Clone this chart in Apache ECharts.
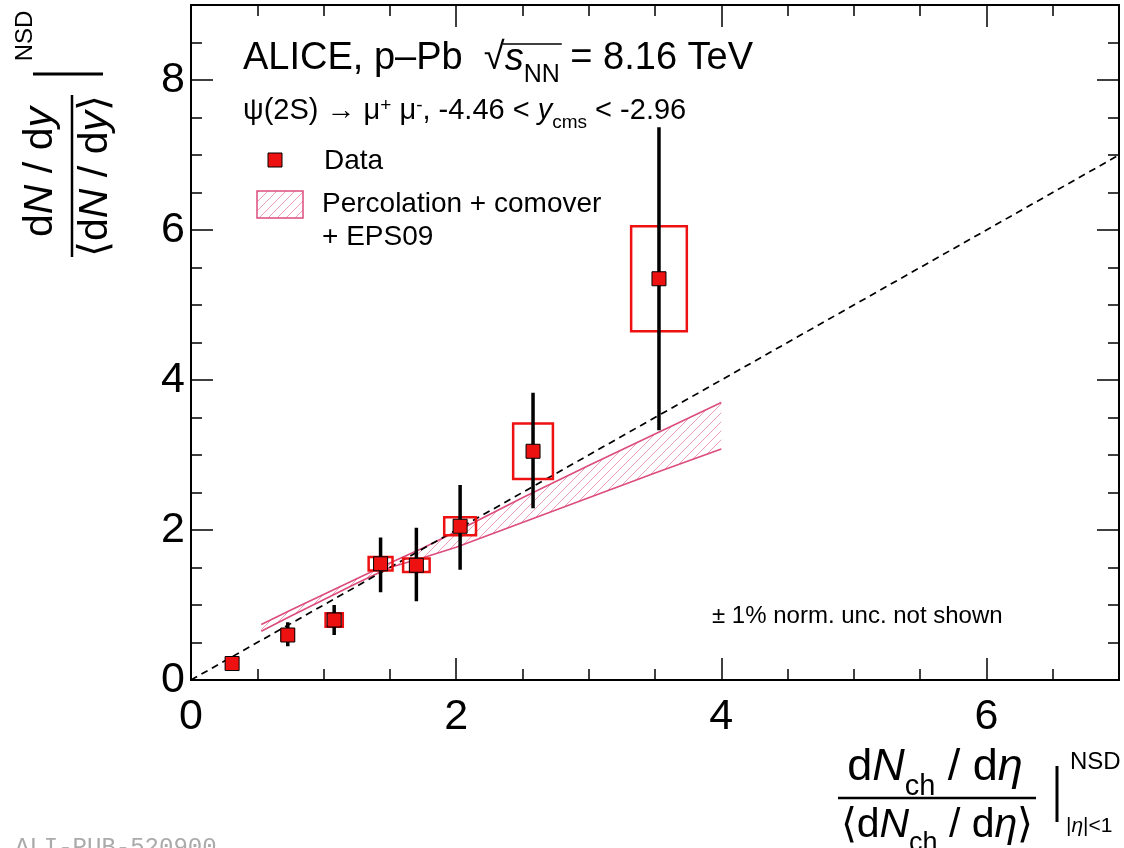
<!DOCTYPE html>
<html><head><meta charset="utf-8">
<script src="https://cdn.jsdelivr.net/npm/echarts@6.0.0/dist/echarts.min.js"></script>
<style>html,body{margin:0;padding:0;background:#fff}#c{width:1124px;height:848px}</style>
</head><body><div id="c"></div>
<script>
// ---- data ----
const dataX   = [0.31, 0.73, 1.08, 1.43, 1.70, 2.03, 2.58, 3.53];
const dataY   = [0.22, 0.60, 0.80, 1.55, 1.53, 2.05, 3.05, 5.35];
const statLo  = [0.16, 0.45, 0.60, 1.17, 1.05, 1.47, 2.29, 3.33];
const statHi  = [0.28, 0.77, 1.00, 1.90, 2.03, 2.60, 3.83, 7.37];
const sysHalfX = [0.04, 0.045, 0.065, 0.09, 0.10, 0.12, 0.15, 0.21];
const sysHalfY = [0.04, 0.07, 0.09, 0.09, 0.09, 0.12, 0.37, 0.70];
const modelX    = [0.53, 0.75, 1.00, 1.25, 1.50, 1.75, 2.00, 2.50, 3.00, 3.50, 4.00];
const modelHigh = [0.74, 0.93, 1.14, 1.35, 1.56, 1.76, 1.98, 2.43, 2.86, 3.28, 3.70];
const modelLow  = [0.65, 0.85, 1.07, 1.29, 1.50, 1.63, 1.77, 2.10, 2.43, 2.76, 3.08];
const refLineX = [0, 7];
const refLineY = [0, 7];
const xRange = [0, 7];
const yRange = [0, 9];

// ---- helpers ----
const F = 'Liberation Sans';
const RED = '#ee1111', PINK = '#dc4d7c';
const mctx = document.createElement('canvas').getContext('2d');
function tw(t, size, italic){ mctx.font = (italic?'italic ':'') + size + 'px "' + F + '"'; return mctx.measureText(t).width; }
function hatchCanvas(){
  const s = 9, c = document.createElement('canvas'); c.width = c.height = s;
  const g = c.getContext('2d'); g.strokeStyle = 'rgba(220,77,124,0.6)'; g.lineWidth = 0.9;
  g.beginPath(); g.moveTo(0, s); g.lineTo(s, 0); g.moveTo(-2, 2); g.lineTo(2, -2); g.moveTo(s-2, s+2); g.lineTo(s+2, s-2); g.stroke();
  return c;
}
const HATCH = {image: hatchCanvas(), repeat: 'repeat'};
function R(S, extra){ return Object.assign({fontSize:S, fontFamily:F, fill:'#000', lineHeight:Math.round(S*1.15), verticalAlign:'top'}, extra||{}); }
function SUB(S){ const s=Math.round(S*0.65); return {fontSize:s, fontFamily:F, fill:'#000', lineHeight:s, verticalAlign:'top', padding:[Math.round(S*0.6),0,0,0]}; }
function SUP(S){ const s=Math.round(S*0.65); return {fontSize:s, fontFamily:F, fill:'#000', lineHeight:Math.round(S*0.5), verticalAlign:'top', padding:[0,0,0,0]}; }
function richSet(S){ return {n:R(S), i:R(S,{fontStyle:'italic'}), b:SUB(S), p:SUP(S)}; }

const chart = echarts.init(document.getElementById('c'), null, {renderer:'canvas'});

function xAx(pos, major){
  return {type:'value', min:xRange[0], max:xRange[1], interval: major?2:0.5, position:pos,
    axisLine:{show:true, onZero:false, lineStyle:{color:'#000', width:2}},
    axisTick:{show:true, inside:true, length: major?22:11, lineStyle:{color:'#000', width:1.5}},
    axisLabel:{show: major && pos==='bottom', fontSize:43, fontFamily:F, color:'#000', margin:16, showMaxLabel:false},
    splitLine:{show:false}};
}
function yAx(pos, major){
  return {type:'value', min:yRange[0], max:yRange[1], interval: major?2:0.5, position:pos,
    axisLine:{show:true, onZero:false, lineStyle:{color:'#000', width:2}},
    axisTick:{show:true, inside:true, length: major?22:11, lineStyle:{color:'#000', width:1.5}},
    axisLabel:{show: major && pos==='left', fontSize:43, fontFamily:F, color:'#000', margin:6, showMaxLabel:false},
    splitLine:{show:false}};
}

// title pieces
const T1 = 38, T1x = 243, T1y = 40;
const t1pre = 'ALICE, p–Pb  ';
const sqrtStart = T1x + tw(t1pre, T1) + tw('√', T1)*0.92;
const sqrtEnd = T1x + tw(t1pre + '√', T1) + tw('s', T1, true) + tw('NN', Math.round(T1*0.65)) + 2;

const graphics = [
  {type:'text', x:T1x, y:T1y, style:{text:'{n|' + t1pre + '√}{i|s}{b|NN}{n| = 8.16 TeV}', rich:richSet(T1)}},
  {type:'line', shape:{x1:sqrtStart, y1:T1y+4, x2:sqrtEnd, y2:T1y+4}, style:{stroke:'#000', lineWidth:1.5}},
  {type:'text', x:243, y:96, style:{text:'{n|ψ(2S) → μ}{p|+}{n| μ}{p|-}{n|, -4.46 < }{i|y}{b|cms}{n| < -2.96}', rich:richSet(29)}},
  // legend
  {type:'rect', shape:{x:268, y:153, width:14, height:14}, style:{fill:RED, stroke:'#000', lineWidth:1}},
  {type:'text', x:324, y:161, style:{text:'Data', font:'28px "Liberation Sans"', fill:'#000', verticalAlign:'middle'}},
  {type:'rect', shape:{x:257, y:191, width:46, height:27}, style:{fill:HATCH, stroke:PINK, lineWidth:1.5}},
  {type:'text', x:322, y:204, style:{text:'Percolation + comover', font:'28px "Liberation Sans"', fill:'#000', verticalAlign:'middle'}},
  {type:'text', x:322, y:237, style:{text:'+ EPS09', font:'28px "Liberation Sans"', fill:'#000', verticalAlign:'middle'}},
  {type:'text', x:712, y:616, style:{text:'± 1% norm. unc. not shown', font:'24px "Liberation Sans"', fill:'#000', verticalAlign:'middle'}},
  // y title (rotated)
  {type:'group', x:72, y:176, rotation:Math.PI/2, children:[
    {type:'text', x:4, y:-28, style:{text:'{n|d}{i|N}{n| / d}{i|y}', rich:richSet(41), align:'center', verticalAlign:'middle'}},
    {type:'line', shape:{x1:-81, y1:0, x2:81, y2:0}, style:{stroke:'#000', lineWidth:2.5}},
    {type:'text', x:0, y:27, style:{text:'{n|⟨d}{i|N}{n| / d}{i|y}{n|⟩}', rich:richSet(41), align:'center', verticalAlign:'middle'}},
    {type:'line', shape:{x1:102, y1:-39, x2:102, y2:31}, style:{stroke:'#000', lineWidth:3}},
    {type:'text', x:140, y:-47, style:{text:'NSD', font:'24px "Liberation Sans"', fill:'#000', align:'center', verticalAlign:'middle'}}
  ]},
  // x title
  {type:'group', x:937, y:798, children:[
    {type:'text', x:-2, y:-27, style:{text:'{n|d}{i|N}{b|ch}{n| / d}{i|η}', rich:richSet(45), align:'center', verticalAlign:'middle'}},
    {type:'line', shape:{x1:-99, y1:0, x2:99, y2:0}, style:{stroke:'#000', lineWidth:2.5}},
    {type:'text', x:0, y:31, style:{text:'{n|⟨d}{i|N}{b|ch}{n| / d}{i|η}{n|⟩}', rich:richSet(41), align:'center', verticalAlign:'middle'}},
    {type:'line', shape:{x1:120, y1:-32, x2:120, y2:24}, style:{stroke:'#000', lineWidth:3}},
    {type:'text', x:133, y:-36, style:{text:'NSD', font:'24px "Liberation Sans"', fill:'#000', verticalAlign:'middle'}},
    {type:'text', x:129, y:30, style:{text:'{n||}{i|η}{n||<1}', rich:richSet(21), verticalAlign:'middle'}}
  ]},
  {type:'text', x:15, y:836, style:{text:'ALI-PUB-520900', font:'24px "Liberation Mono"', fill:'#aaaaaa'}}
];

const option = {
  animation:false,
  backgroundColor:'#fff',
  grid:{left:191, right:5, top:5, bottom:168, containLabel:false, outerBoundsMode:'none'},
  xAxis:[xAx('bottom',true), xAx('bottom',false), xAx('top',true), xAx('top',false)],
  yAxis:[yAx('left',true), yAx('left',false), yAx('right',true), yAx('right',false)],
  series:[
    {type:'custom', name:'band', z:1, silent:true, data:[[modelX[0], modelLow[0]]],
      renderItem:function(params, api){
        const pts = modelX.map((x,i)=>api.coord([x, modelHigh[i]]));
        for (let i = modelX.length-1; i >= 0; i--) pts.push(api.coord([modelX[i], modelLow[i]]));
        return {type:'polygon', shape:{points:pts}, style:{fill:HATCH, stroke:'none'}};
      }},
    {type:'line', name:'modelHigh', z:2, symbol:'none', data:modelX.map((x,i)=>[x, modelHigh[i]]), lineStyle:{color:PINK, width:1.6}},
    {type:'line', name:'modelLow', z:2, symbol:'none', data:modelX.map((x,i)=>[x, modelLow[i]]), lineStyle:{color:PINK, width:1.6}},
    {type:'line', name:'ref', z:3, symbol:'none', data:refLineX.map((x,i)=>[x, refLineY[i]]), lineStyle:{color:'#000', width:1.7, type:[7,5]}},
    {type:'custom', name:'sys', z:4, data:dataX.map((x,i)=>[x, dataY[i], sysHalfX[i], sysHalfY[i]]), encode:{x:0, y:1},
      renderItem:function(params, api){
        const x=api.value(0), y=api.value(1), hx=api.value(2), hy=api.value(3);
        const a=api.coord([x-hx, y+hy]), b=api.coord([x+hx, y-hy]);
        return {type:'rect', shape:{x:a[0], y:a[1], width:b[0]-a[0], height:b[1]-a[1]}, style:{fill:'none', stroke:RED, lineWidth:2.5}};
      }},
    {type:'custom', name:'stat', z:5, data:dataX.map((x,i)=>[x, statLo[i], statHi[i]]), encode:{x:0, y:[1,2]},
      renderItem:function(params, api){
        const a=api.coord([api.value(0), api.value(1)]), b=api.coord([api.value(0), api.value(2)]);
        return {type:'line', shape:{x1:a[0], y1:a[1], x2:b[0], y2:b[1]}, style:{stroke:'#000', lineWidth:3.5}};
      }},
    {type:'scatter', name:'Data', z:6, symbol:'rect', symbolSize:14, data:dataX.map((x,i)=>[x, dataY[i]]),
      itemStyle:{color:RED, borderColor:'#000', borderWidth:1, opacity:1}}
  ],
  graphic: graphics
};
chart.setOption(option);
</script>
</body></html>
